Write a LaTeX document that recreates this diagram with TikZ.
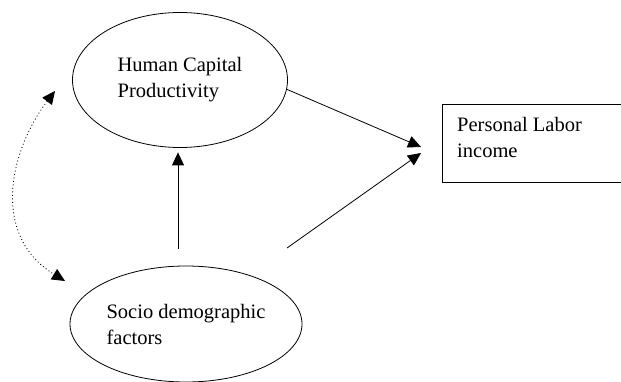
\documentclass[tikz,border=0pt]{standalone}
\usepackage{fontspec}
\setmainfont{Liberation Serif}
\usetikzlibrary{shapes.geometric}
\usetikzlibrary{arrows.meta}
\tikzset{
	factor/.style={draw, ellipse, inner sep=0pt, align=left, line width=0.8pt},
	flow/.style={-{Triangle[length=13pt,width=12pt]}, line width=0.8pt},
	twoway/.style={{Triangle[length=13pt,width=12pt]}-{Triangle[length=13pt,width=12pt]}, line width=0.8pt, dash pattern=on 1pt off 2.5pt}
}

\begin{document}
\begin{tikzpicture}[x=1pt,y=-1pt,font=\fontsize{20.5}{26}\selectfont]
	\useasboundingbox (0,0) rectangle (621,382);
	\node[factor, minimum width=215, minimum height=135] (hcp) at (180,80) {Human Capital\\Productivity};
	\node[factor, minimum width=232, minimum height=116] (sdf) at (186,324) {Socio demographic\\factors};
	\node[draw, line width=0.8pt, anchor=north west, minimum width=178.5, minimum height=78] (pli) at (442,104) {};
	\node[anchor=north west, align=left, inner sep=0pt] (plitext) at (457,117) {Personal Labor\\income};
	\coordinate (meetup) at (421,147);%upper tip
	\coordinate (meetdown) at (421,153);%lower tip
	\coordinate (sdfout) at (287,248);
	\coordinate (sdfup) at (178,249);
	\coordinate (hcpin) at (55,91);
	\coordinate (sdfin) at (65,281);
	\draw[flow] (hcp.-5) -- (meetup);
	\draw[flow] (sdfout) -- (meetdown);
	\draw[flow, shorten >=4.5pt] (sdfup) -- (hcp.south -| sdfup);
	\draw[twoway] (hcpin) .. controls (10,150) and (-10,235) .. (sdfin);
\end{tikzpicture}
\end{document}
